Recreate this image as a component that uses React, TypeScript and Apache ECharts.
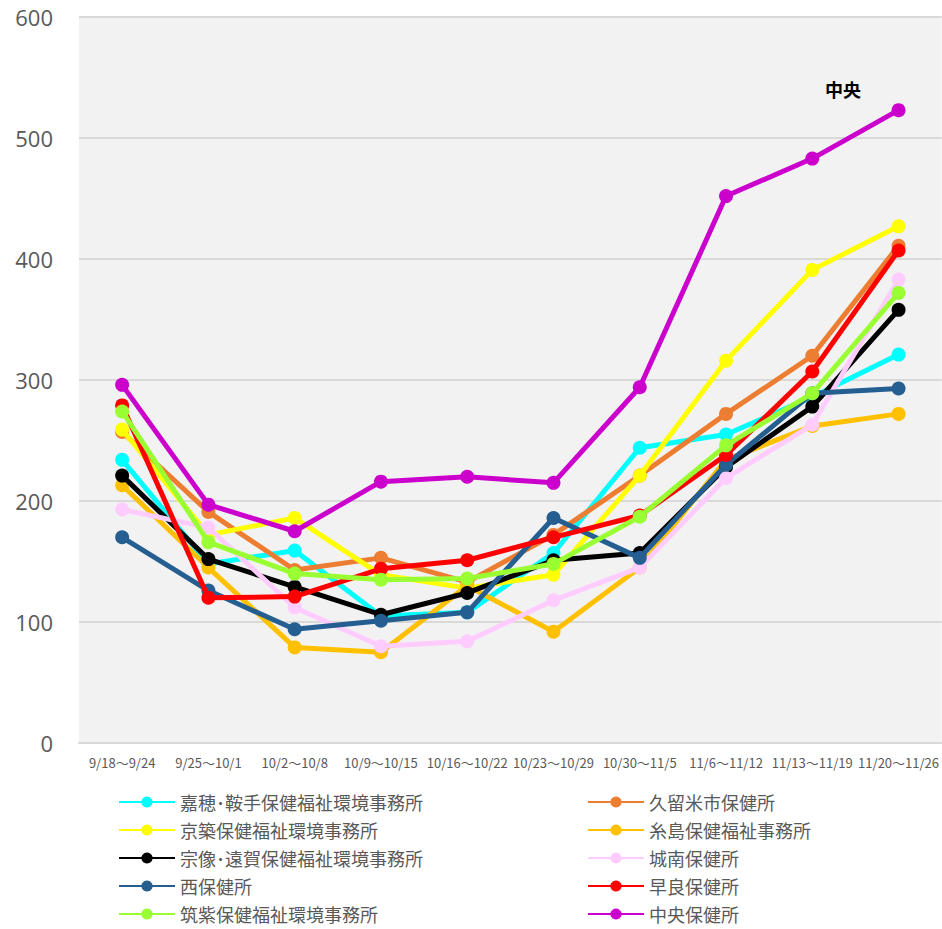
import React, { useEffect, useRef } from "react";
import * as echarts from "echarts";

const categories = [
  "9/18～9/24",
  "9/25～10/1",
  "10/2～10/8",
  "10/9～10/15",
  "10/16～10/22",
  "10/23～10/29",
  "10/30～11/5",
  "11/6～11/12",
  "11/13～11/19",
  "11/20～11/26",
];

const names = [
  "嘉穂･鞍手保健福祉環境事務所",
  "久留米市保健所",
  "京築保健福祉環境事務所",
  "糸島保健福祉事務所",
  "宗像･遠賀保健福祉環境事務所",
  "城南保健所",
  "西保健所",
  "早良保健所",
  "筑紫保健福祉環境事務所",
  "中央保健所",
];

const kahoKurate = [234, 148, 159, 105, 108, 157, 244, 255, 286, 321];
const kurume = [257, 191, 143, 153, 133, 172, 221, 272, 320, 411];
const keichiku = [259, 172, 186, 139, 128, 139, 221, 316, 391, 427];
const itoshima = [213, 145, 79, 75, 130, 92, 145, 234, 262, 272];
const munakataOnga = [221, 152, 129, 106, 124, 151, 157, 228, 278, 358];
const jonan = [193, 178, 112, 80, 84, 118, 145, 219, 263, 383];
const nishi = [170, 126, 94, 101, 108, 186, 153, 230, 289, 293];
const sawara = [279, 120, 121, 144, 151, 170, 188, 238, 307, 407];
const chikushi = [274, 166, 140, 135, 136, 148, 187, 246, 289, 372];
const chuo = [296, 197, 175, 216, 220, 215, 294, 452, 483, 523];

const seriesValues = [
  kahoKurate,
  kurume,
  keichiku,
  itoshima,
  munakataOnga,
  jonan,
  nishi,
  sawara,
  chikushi,
  chuo,
];

const colors = [
  "#00FFFF",
  "#ED7D31",
  "#FFFF00",
  "#FFC000",
  "#000000",
  "#FFCCFF",
  "#255E91",
  "#FF0000",
  "#99FF33",
  "#CC00CC",
];

const yTicks = [0, 100, 200, 300, 400, 500, 600];

export default function App() {
  const ref = useRef<HTMLDivElement>(null);

  useEffect(() => {
    if (!ref.current) return;
    const chart = echarts.init(ref.current, null, { renderer: "svg" });
    const rowCenters = [802, 830, 858, 886, 914];
    const colLefts = [118, 587];
    const legends = names.map((name, i) => ({
      orient: "horizontal" as const,
      itemWidth: 56,
      itemHeight: 14,
      padding: 0,
      selectedMode: false,
      left: colLefts[i % 2],
      top: rowCenters[Math.floor(i / 2)] - 9,
      textStyle: {
        fontSize: 18,
        color: "#595959",
        fontFamily: "Noto Sans CJK JP",
        lineHeight: 18,
      },
      data: [name],
    }));
    chart.setOption({
      animation: false,
      backgroundColor: "#ffffff",
      grid: {
        left: 79,
        right: 0,
        top: 17,
        bottom: 186,
        show: true,
        backgroundColor: "#f2f2f2",
        borderWidth: 0,
      },
      legend: legends,
      xAxis: {
        type: "category",
        data: categories,
        boundaryGap: true,
        axisLine: { show: true, lineStyle: { color: "#d9d9d9", width: 2 } },
        axisTick: { show: false },
        axisLabel: {
          interval: 0,
          fontSize: 13,
          color: "#595959",
          fontFamily: "Liberation Sans Narrow, Noto Sans CJK JP",
          margin: 13,
        },
      },
      yAxis: {
        type: "value",
        min: yTicks[0],
        max: yTicks[yTicks.length - 1],
        interval: 100,
        axisLine: { show: false },
        axisTick: { show: false },
        splitLine: { show: true, lineStyle: { color: "#d9d9d9", width: 2 } },
        axisLabel: {
          fontSize: 22,
          color: "#595959",
          fontFamily: "Open Sans",
          margin: 26,
        },
      },
      graphic: [
        {
          type: "text",
          left: 825,
          top: 80,
          style: {
            text: "中央",
            fontSize: 18,
            fontWeight: "bold",
            fill: "#000000",
            fontFamily: "Noto Sans CJK JP",
          },
        },
      ],
      series: names.map((name, i) => ({
        name,
        type: "line",
        data: seriesValues[i],
        symbol: "circle",
        symbolSize: 14,
        lineStyle: { width: 5, color: colors[i] },
        itemStyle: { color: colors[i] },
        z: 2 + i,
      })),
    });
    return () => chart.dispose();
  }, []);

  return (
    <div
      ref={ref}
      style={{ position: "absolute", left: 0, top: 0, width: 942, height: 929 }}
    />
  );
}
